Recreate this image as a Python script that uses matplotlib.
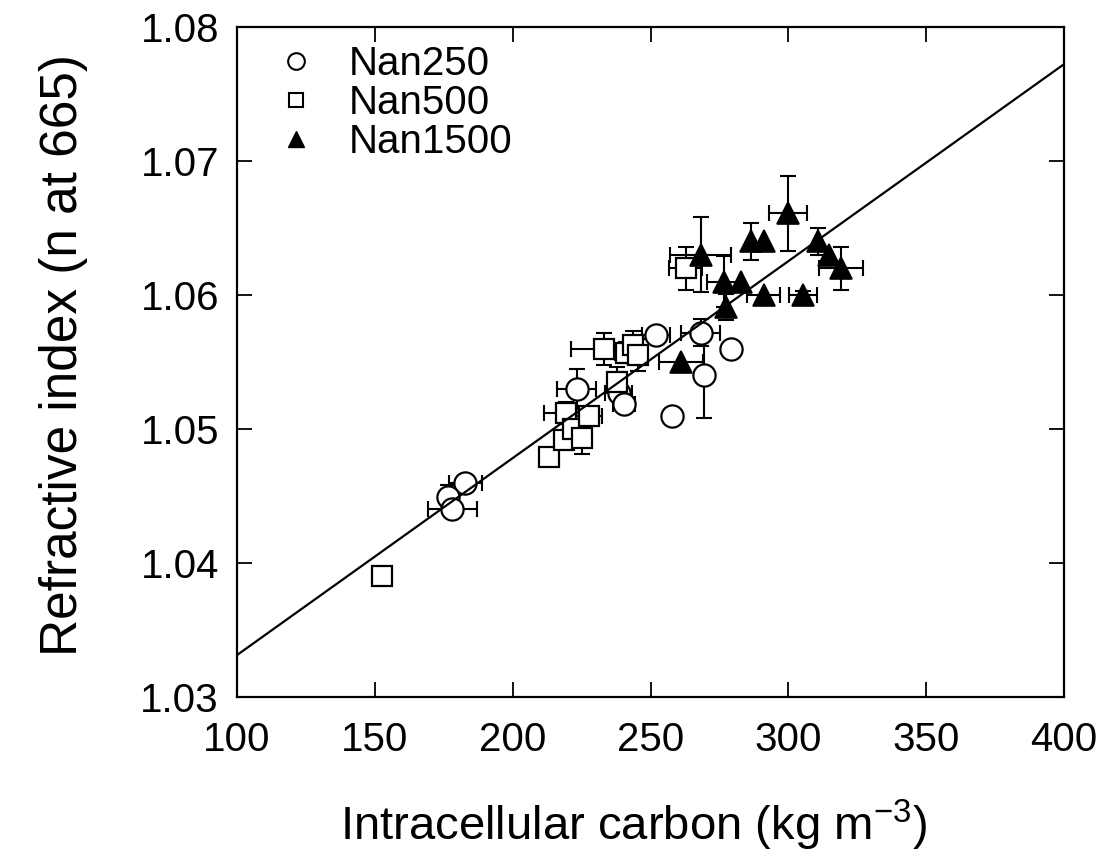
import numpy as np
import matplotlib
matplotlib.use("Agg")
import matplotlib.pyplot as plt
from matplotlib.lines import Line2D

plt.rcParams['font.family'] = ['Liberation Sans', 'DejaVu Sans']

# Nan250 (open circles)
x250 = np.array([182.8, 176.7, 178.1, 223.2, 238.4, 240.3, 251.9, 268.2, 269.3, 257.7, 279.1])
y250 = np.array([1.0460, 1.0449, 1.0440, 1.0530, 1.0527, 1.0519, 1.0570, 1.0572, 1.0540, 1.0510, 1.0560])
xerr250 = np.array([6, 0, 9, 7, 5, 4, 5, 7, 0, 0, 0])
yerr250 = np.array([0, 0.0009, 0, 0.0015, 0, 0, 0, 0.0010, 0.0032, 0, 0])

# Nan500 (open squares)
x500 = np.array([152.5, 213.0, 218.5, 219.5, 222.0, 225.0, 227.5, 233.0, 238.0, 241.0, 243.5, 245.5, 262.8])
y500 = np.array([1.0390, 1.0479, 1.0492, 1.0512, 1.0500, 1.0493, 1.0510, 1.0560, 1.0535, 1.0557, 1.0563, 1.0555, 1.0620])
xerr500 = np.array([0, 0, 0, 8, 3, 0, 5, 12, 3, 4, 0, 3, 6])
yerr500 = np.array([0, 0, 0.0005, 0.0008, 0, 0.0012, 0, 0.0012, 0.0011, 0.0008, 0.0010, 0.0012, 0.0016])

# Nan1500 (filled triangles)
x1500 = np.array([261.0, 268.2, 276.6, 277.3, 282.8, 286.4, 291.1, 291.1, 299.9, 305.3, 310.8, 314.8, 319.1])
y1500 = np.array([1.0550, 1.0630, 1.0610, 1.0591, 1.0610, 1.0640, 1.0640, 1.0600, 1.0661, 1.0600, 1.0640, 1.0630, 1.0620])
xerr1500 = np.array([8, 11, 6, 0, 0, 0, 0, 6, 7, 5, 0, 0, 8])
yerr1500 = np.array([0, 0.0028, 0.0019, 0.0010, 0, 0.0014, 0, 0, 0.0028, 0.0003, 0.0010, 0, 0.0016])

# regression line
slope = 0.000147
intercept = 1.01843
fit_x = np.array([100, 400])

fig = plt.figure(figsize=(11.05, 8.57), dpi=100)
ax = fig.add_axes([0.2145, 0.1867, 0.7485, 0.7818])

def draw_errs(x, y, xe, ye):
    m = xe > 0
    ax.errorbar(x[m], y[m], xerr=xe[m], fmt='none', ecolor='black',
                elinewidth=1.5, capsize=5.5, capthick=1.5, zorder=2)
    m = ye > 0
    ax.errorbar(x[m], y[m], yerr=ye[m], fmt='none', ecolor='black',
                elinewidth=1.5, capsize=5.5, capthick=1.5, zorder=2)

draw_errs(x250, y250, xerr250, yerr250)
draw_errs(x500, y500, xerr500, yerr500)
draw_errs(x1500, y1500, xerr1500, yerr1500)

ax.plot(x250, y250, 'o', ms=16, mfc='white', mec='black', mew=1.6, ls='none', zorder=3)
ax.plot(x500, y500, 's', ms=14, mfc='white', mec='black', mew=1.6, ls='none', zorder=3)
ax.plot(x1500, y1500, '^', ms=16, mfc='black', mec='black', mew=1.2, ls='none', zorder=3)

ax.plot(fit_x, intercept + slope * fit_x, color='black', lw=1.6, zorder=4)

ax.set_xlim(100, 400)
ax.set_ylim(1.03, 1.08)
ax.set_xticks([100, 150, 200, 250, 300, 350, 400])
ax.set_yticks([1.03, 1.04, 1.05, 1.06, 1.07, 1.08])
ax.set_yticklabels(['1.03', '1.04', '1.05', '1.06', '1.07', '1.08'])
ax.tick_params(direction='in', length=11, width=1.3, labelsize=29,
               top=True, right=True)
ax.tick_params(axis='y', pad=13)
ax.tick_params(axis='x', pad=17)
for s in ax.spines.values():
    s.set_linewidth(1.6)

ax.set_xlabel('Intracellular carbon (kg m$^{\\mathregular{-3}}$)', fontsize=34)
ax.set_ylabel('Refractive index (n at 665)', fontsize=37)
ax.xaxis.set_label_coords(0.48, -0.15)
ax.yaxis.set_label_coords(-0.18, 0.51)

handles = [
    Line2D([], [], marker='o', ls='none', ms=12, mfc='white', mec='black', mew=1.5),
    Line2D([], [], marker='s', ls='none', ms=10, mfc='white', mec='black', mew=1.5),
    Line2D([], [], marker='^', ls='none', ms=11, mfc='black', mec='black'),
]
ax.legend(handles, ['Nan250', 'Nan500', 'Nan1500'], loc='upper left',
          bbox_to_anchor=(0.025, 1.0), frameon=False, fontsize=29,
          handlelength=1.0, handletextpad=0.8, labelspacing=0.02,
          borderaxespad=0.05)

fig.savefig('out.png', dpi=100, facecolor='white')
